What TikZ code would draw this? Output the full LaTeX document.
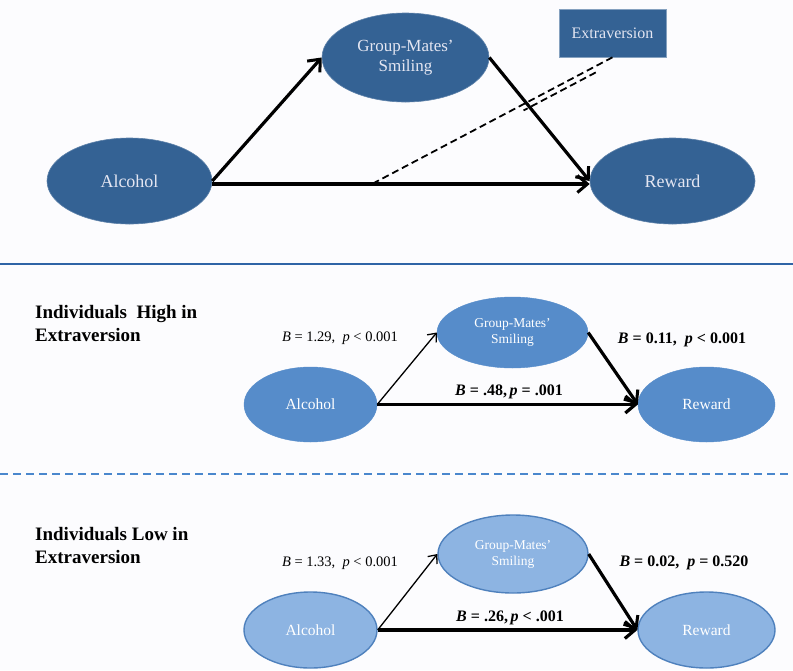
\documentclass[tikz,border=0pt]{standalone}
\usepackage{fontspec}
\setmainfont{Liberation Serif}
\usetikzlibrary{shapes.geometric,arrows.meta,calc}
\definecolor{topblue}{RGB}{52,98,148}
\definecolor{midblue}{RGB}{86,140,202}
\definecolor{lowblue}{RGB}{141,180,226}
\definecolor{lowedge}{RGB}{79,129,189}
\definecolor{sepblue}{RGB}{47,100,166}
\definecolor{dashblue}{RGB}{74,135,205}
\definecolor{toptext}{RGB}{228,230,242}
\definecolor{bg}{RGB}{252,252,254}
\tikzset{
  topell/.style={ellipse, fill=topblue, draw=topblue!80!white, line width=0.6pt, inner sep=0pt, text=toptext, align=center},
  midell/.style={ellipse, fill=midblue, draw=midblue, inner sep=0pt, text=white, align=center, font=\fontsize{15.5}{16}\selectfont},
  lowell/.style={ellipse, fill=lowblue, draw=lowedge, line width=1.4pt, inner sep=0pt, text=white, align=center, font=\fontsize{15.5}{16}\selectfont},
  midgrp/.style={font=\fontsize{13.5}{16}\selectfont},
  thickarr/.style={line width=3.2pt, -{Straight Barb[length=10pt,width=17pt,line width=3pt]}},
  thinarr/.style={line width=1.3pt, -{Straight Barb[length=7pt,width=12pt,line width=1.3pt]}},
  heavyarr/.style={line width=3.8pt, -{Straight Barb[length=10pt,width=17pt,line width=3.2pt]}},
  plainlab/.style={font=\fontsize{14.5}{16}\selectfont, inner sep=0pt},
  boldlab/.style={font=\fontsize{16}{17}\selectfont\bfseries, inner sep=0pt},
  heading/.style={font=\fontsize{19}{23}\selectfont\bfseries, align=left, anchor=west, inner sep=0pt},
  moddash/.style={line width=1.8pt, dash pattern=on 7pt off 4pt}
}
\begin{document}
\begin{tikzpicture}[x=1pt,y=-1pt]
\fill[bg] (0,0) rectangle (793,670);
\useasboundingbox (0,0) rectangle (793,670);

% ---------- top panel ----------
\node[topell, minimum width=165, minimum height=86, font=\fontsize{18}{20}\selectfont] (alc) at (129.5,181) {Alcohol};
\node[topell, minimum width=167, minimum height=89, font=\fontsize{17}{20}\selectfont] (grp) at (405.5,57.5) {Group-Mates’\\Smiling};
\node[topell, minimum width=165, minimum height=86, font=\fontsize{18}{20}\selectfont] (rew) at (672.5,181) {Reward};
\node[rectangle, fill=topblue, draw=topblue!60!white, line width=0.6pt, text=toptext, minimum width=107, minimum height=48, inner sep=0pt, font=\fontsize{16}{18}\selectfont] (ext) at (612.5,33) {Extraversion};

\draw[thickarr] (alc.east) -- (grp.west);
\draw[thickarr] (grp.east) -- (rew.west);
\draw[thickarr] ([yshift=-3]alc.east) -- ([yshift=-3]rew.west);
\path ([yshift=-3]alc.east) -- ([yshift=-3]rew.west) coordinate[pos=0.423] (mod);
\draw[moddash] (ext.south) -- (mod);
\path (ext.south) -- (mod) coordinate[pos=0.08] (d1) coordinate[pos=0.38] (d2);
\draw[moddash] ([shift={(2.5,5)}]d1) -- ([shift={(2.5,5)}]d2);

% separator
\draw[sepblue, line width=2.4pt] (0,264) -- (793,264);

% ---------- middle panel ----------
\node[heading] (h1) at (35,323.5) {Individuals\ \ High in\\Extraversion};
\node[midell, minimum width=133, minimum height=75] (alc2) at (310.5,404.5) {Alcohol};
\node[midell, minimum width=151, minimum height=71, midgrp] (grp2) at (512.5,332.5) {Group-Mates’\\Smiling};
\node[midell, minimum width=137, minimum height=75] (rew2) at (706.5,404.5) {Reward};

\draw[thinarr] (alc2.east) -- (grp2.west);
\draw[thickarr] (grp2.east) -- (rew2.west);
\draw[heavyarr] (alc2.east) -- (rew2.west);

\node[plainlab] (l1) at (340,338) {\textit{B} = 1.29,\ \ \textit{p} < 0.001};
\node[boldlab] (l2) at (682,340) {\textit{B} = 0.11,\ \ \textit{p} < 0.001};
\node[boldlab] (l3) at (509,392) {\textit{B} = .48,\,\textit{p} = .001};

% dashed separator
\draw[dashblue, line width=2pt, dash pattern=on 8pt off 5pt] (0,474) -- (793,474);

% ---------- bottom panel ----------
\node[heading] (h2) at (35,545) {Individuals Low in\\Extraversion};
\node[lowell, minimum width=133, minimum height=76] (alc3) at (310.5,630) {Alcohol};
\node[lowell, minimum width=150, minimum height=78, midgrp] (grp3) at (513,554) {Group-Mates’\\Smiling};
\node[lowell, minimum width=137, minimum height=76] (rew3) at (706.5,630) {Reward};

\draw[thinarr] (alc3.east) -- (grp3.west);
\draw[thickarr] (grp3.east) -- (rew3.west);
\draw[heavyarr] (alc3.east) -- (rew3.west);

\node[plainlab] (l4) at (340,563) {\textit{B} = 1.33,\ \ \textit{p} < 0.001};
\node[boldlab] (l5) at (684,563) {\textit{B} = 0.02,\ \ \textit{p} = 0.520};
\node[boldlab] (l6) at (510,618) {\textit{B} = .26,\,\textit{p} < .001};
\end{tikzpicture}
\end{document}
